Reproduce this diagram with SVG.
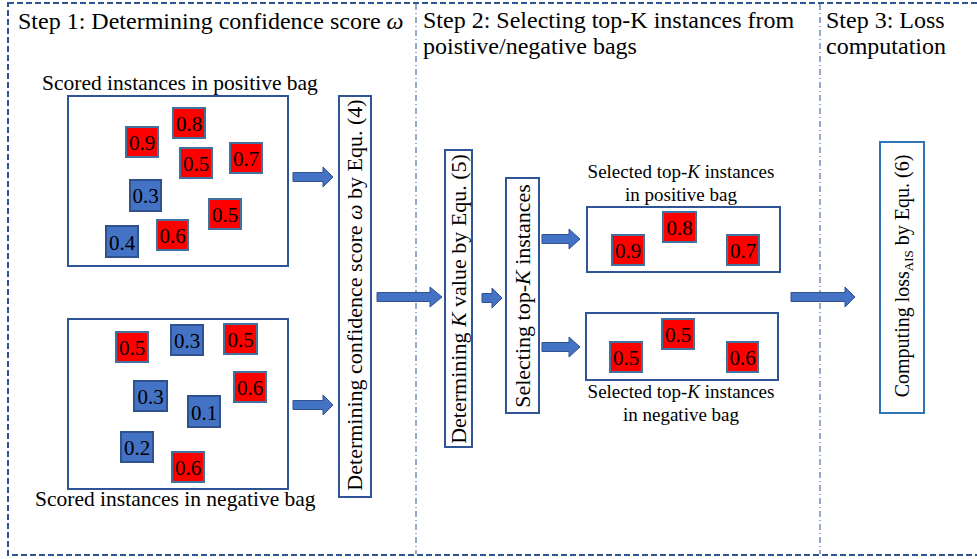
<svg xmlns="http://www.w3.org/2000/svg" width="977" height="559" viewBox="0 0 977 559">
<defs>
<style>
text{font-family:"Liberation Serif","Times New Roman",serif;fill:#000}
.title{font-size:24px}
.lbl{font-size:21.5px}
.sel{font-size:19px}
.num{font-size:21px;text-anchor:middle}
.vt{font-size:22px;text-anchor:middle}
.bag{fill:#fff;stroke:#2F5597;stroke-width:2}
.r{fill:#FF0000;stroke:#41719C;stroke-width:2}
.b{fill:#4472C4;stroke:#2F528F;stroke-width:2}
.vbox{fill:#fff;stroke:#2F5597;stroke-width:2}
.arr{fill:#4472C4;stroke:#2F528F;stroke-width:1}
.frame{fill:none;stroke:#2F5597;stroke-width:2;stroke-dasharray:6 3}
.div{fill:none;stroke:#2F5597;stroke-width:1;stroke-dasharray:6 3 1 3}
</style>
</defs>
<rect width="977" height="559" fill="#fff"/>
<g id="frame">
<rect class="frame" x="8" y="3" width="980" height="552"/>
<line class="div" x1="416" y1="4" x2="416" y2="554"/>
<line class="div" x1="820" y1="4" x2="820" y2="554"/>
</g>
<g id="titles">
<text class="title" x="18" y="29">Step 1: Determining confidence score <tspan font-style="italic">ω</tspan></text>
<text class="title" x="423" y="28">Step 2: Selecting top-K instances from</text>
<text class="title" x="423" y="54">poistive/negative bags</text>
<text class="title" x="826" y="28">Step 3: Loss</text>
<text class="title" x="826" y="54">computation</text>
</g>
<g id="positive-bag">
<text class="lbl" x="42" y="90">Scored instances in positive bag</text>
<rect class="bag" x="68" y="96" width="220" height="170"/>
<g id="p1"><rect class="r" x="173" y="108" width="32" height="30"/><text class="num" x="189" y="131">0.8</text></g>
<g id="p2"><rect class="r" x="126" y="127" width="32" height="30"/><text class="num" x="142" y="150">0.9</text></g>
<g id="p3"><rect class="r" x="180" y="148" width="32" height="30"/><text class="num" x="196" y="171">0.5</text></g>
<g id="p4"><rect class="r" x="230" y="143" width="32" height="30"/><text class="num" x="246" y="166">0.7</text></g>
<g id="p5"><rect class="b" x="130" y="180" width="31" height="31"/><text class="num" x="145.5" y="203">0.3</text></g>
<g id="p6"><rect class="r" x="209" y="199" width="32" height="30"/><text class="num" x="225" y="222">0.5</text></g>
<g id="p7"><rect class="r" x="157" y="220" width="31" height="30"/><text class="num" x="172.5" y="243">0.6</text></g>
<g id="p8"><rect class="b" x="106" y="226" width="32" height="31"/><text class="num" x="122" y="250">0.4</text></g>
</g>
<g id="negative-bag">
<rect class="bag" x="68" y="319" width="220" height="170"/>
<g id="n1"><rect class="r" x="116" y="332" width="32" height="30"/><text class="num" x="132" y="355">0.5</text></g>
<g id="n2"><rect class="b" x="171" y="325" width="32" height="30"/><text class="num" x="187" y="348">0.3</text></g>
<g id="n3"><rect class="r" x="224" y="324" width="33" height="30"/><text class="num" x="240.5" y="347">0.5</text></g>
<g id="n4"><rect class="r" x="234" y="372" width="32" height="30"/><text class="num" x="250" y="395">0.6</text></g>
<g id="n5"><rect class="b" x="134" y="381" width="33" height="30"/><text class="num" x="150.5" y="404">0.3</text></g>
<g id="n6"><rect class="b" x="188" y="396" width="32" height="31"/><text class="num" x="204" y="420">0.1</text></g>
<g id="n7"><rect class="b" x="121" y="432" width="32" height="30"/><text class="num" x="137" y="455">0.2</text></g>
<g id="n8"><rect class="r" x="172" y="452" width="32" height="30"/><text class="num" x="188" y="475">0.6</text></g>
<text class="lbl" x="35" y="506">Scored instances in negative bag</text>
</g>
<g id="confidence-box">
<rect class="vbox" x="339" y="96" width="32" height="401"/>
<text class="vt" transform="translate(362 295) rotate(-90)">Determining confidence score <tspan font-style="italic">ω</tspan> by Equ. (4)</text>
</g>
<g id="k-box">
<rect class="vbox" x="445" y="150" width="27" height="297"/>
<text class="vt" transform="translate(466 299) rotate(-90)">Determining <tspan font-style="italic">K</tspan> value by Equ. (5)</text>
</g>
<g id="select-box">
<rect class="vbox" x="506" y="178" width="33" height="235"/>
<text class="vt" transform="translate(530 296) rotate(-90)">Selecting top-<tspan font-style="italic">K</tspan> instances</text>
</g>
<g id="topk-positive">
<text class="sel" x="681" y="178" text-anchor="middle">Selected top-<tspan font-style="italic">K</tspan> instances</text>
<text class="sel" x="681" y="201" text-anchor="middle">in positive bag</text>
<rect class="bag" x="587" y="207" width="193" height="65"/>
<g id="tp1"><rect class="r" x="663" y="212" width="33" height="30"/><text class="num" x="679.5" y="235">0.8</text></g>
<g id="tp2"><rect class="r" x="612" y="235" width="32" height="30"/><text class="num" x="628" y="258">0.9</text></g>
<g id="tp3"><rect class="r" x="727" y="235" width="32" height="30"/><text class="num" x="743" y="258">0.7</text></g>
</g>
<g id="topk-negative">
<rect class="bag" x="586" y="313" width="192" height="67"/>
<g id="tn1"><rect class="r" x="662" y="319" width="32" height="30"/><text class="num" x="678" y="342">0.5</text></g>
<g id="tn2"><rect class="r" x="610" y="342" width="32" height="30"/><text class="num" x="626" y="365">0.5</text></g>
<g id="tn3"><rect class="r" x="727" y="342" width="31" height="30"/><text class="num" x="742.5" y="365">0.6</text></g>
<text class="sel" x="681" y="398" text-anchor="middle">Selected top-<tspan font-style="italic">K</tspan> instances</text>
<text class="sel" x="681" y="421" text-anchor="middle">in negative bag</text>
</g>
<g id="loss-box">
<rect x="880" y="142" width="44" height="271" fill="#fff" stroke="#2E75B6" stroke-width="2"/>
<text transform="translate(909 276) rotate(-90)" font-size="20" text-anchor="middle">Computing loss<tspan font-size="13" dy="4">AIS</tspan><tspan dy="-4"> by Equ. (6)</tspan></text>
</g>
<g id="connectors">
<polygon class="arr" points="293,172.5 323,172.5 323,167 333,177 323,187 323,181.5 293,181.5"/>
<polygon class="arr" points="293,400.5 323,400.5 323,395 333,405 323,415 323,409.5 293,409.5"/>
<polygon class="arr" points="377,292.5 430,292.5 430,287 442,297 430,307 430,301.5 377,301.5"/>
<polygon class="arr" points="482,293.5 492,293.5 492,288 502,298 492,308 492,302.5 482,302.5"/>
<polygon class="arr" points="542,234.5 569,234.5 569,229 580,239 569,249 569,243.5 542,243.5"/>
<polygon class="arr" points="542,342.5 569,342.5 569,337 580,347 569,357 569,351.5 542,351.5"/>
<polygon class="arr" points="791,292.5 845,292.5 845,287 855,297 845,307 845,301.5 791,301.5"/>
</g>
</svg>
